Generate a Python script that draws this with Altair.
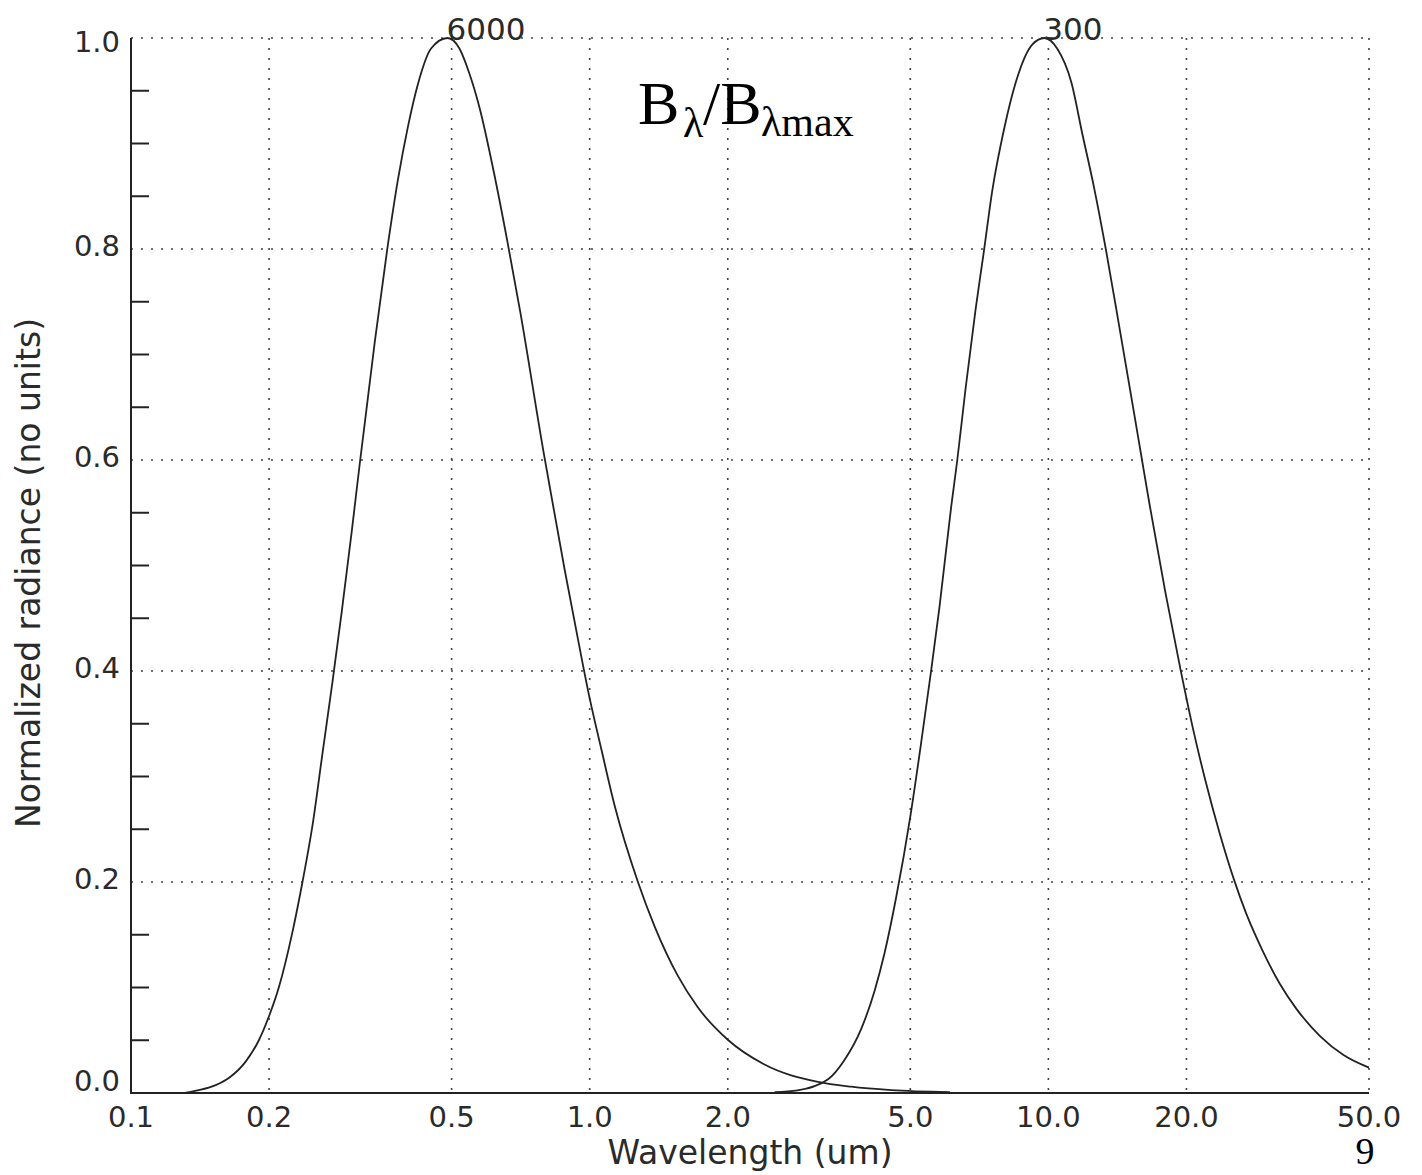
import altair as alt
import pandas as pd

# ---- data ----
wl_6000 = [0.131, 0.1406, 0.153, 0.1637, 0.178, 0.190, 0.200, 0.210, 0.225, 0.2365,
           0.249, 0.2615, 0.275, 0.288, 0.303, 0.316, 0.324, 0.340, 0.362, 0.382,
           0.402, 0.422, 0.451, 0.490, 0.520, 0.545, 0.576, 0.618, 0.661, 0.706,
           0.793, 0.825, 0.882, 0.943, 1.0, 1.06, 1.134, 1.274, 1.385, 1.557,
           1.722, 2.0, 2.405, 3.145, 3.715, 4.54, 6.1]
rad_6000 = [0.0, 0.0027, 0.0075, 0.0145, 0.030, 0.050, 0.073, 0.100, 0.153, 0.20,
            0.255, 0.322, 0.390, 0.456, 0.533, 0.60, 0.638, 0.712, 0.80, 0.866,
            0.917, 0.956, 0.990, 1.0, 0.990, 0.968, 0.933, 0.873, 0.808, 0.740,
            0.608, 0.566, 0.496, 0.430, 0.374, 0.326, 0.272, 0.2, 0.158, 0.111,
            0.081, 0.0505, 0.027, 0.0106, 0.006, 0.0028, 0.0009]

wl_300 = [2.53, 2.84, 3.31, 3.59, 3.91, 4.18, 4.39, 4.66, 5.0, 5.28,
          5.55, 5.79, 6.14, 6.33, 6.60, 6.94, 7.23, 7.55, 8.0, 8.49,
          9.23, 9.8, 10.45, 11.22, 11.86, 12.58, 13.34, 14.28, 15.27, 16.0,
          16.6, 18.0, 19.4, 20.6, 22.0, 23.6, 25.4, 27.0, 29.3, 31.9,
          34.7, 39.1, 44.0, 50.0]
rad_300 = [0.0007, 0.0025, 0.013, 0.031, 0.061, 0.097, 0.132, 0.186, 0.262, 0.332,
           0.400, 0.461, 0.556, 0.60, 0.668, 0.743, 0.797, 0.856, 0.913, 0.958,
           0.994, 1.0, 0.99, 0.958, 0.909, 0.858, 0.80, 0.726, 0.652, 0.60,
           0.559, 0.474, 0.402, 0.348, 0.296, 0.247, 0.202, 0.170, 0.135, 0.104,
           0.080, 0.054, 0.036, 0.024]

x_ticks = [0.1, 0.2, 0.5, 1.0, 2.0, 5.0, 10.0, 20.0, 50.0]
x_grid = [0.2, 0.5, 1.0, 2.0, 5.0, 10.0, 20.0, 50.0]
y_grid = [0.2, 0.4, 0.6, 0.8, 1.0]
y_labels_mid = [0.2, 0.4, 0.6, 0.8]
y_label_bottom = [0.0]
y_label_top = [1.0]
y_minor = [0.05, 0.10, 0.15, 0.25, 0.30, 0.35, 0.45, 0.50, 0.55,
           0.65, 0.70, 0.75, 0.85, 0.90, 0.95]

peak_text = ["6000", "300"]
peak_wl = [0.490, 9.8]
peak_val = [1.0, 1.0]

x_title = ["Wavelength (um)"]
y_title = ["Normalized radiance (no units)"]
ann_B1 = ["B"]
ann_sub1 = ["λ"]
ann_B2 = ["/B"]
ann_sub2 = ["λmax"]
page_no = ["9"]

# ---- build tables ----
curves = pd.concat([
    pd.DataFrame({"wl": wl_6000, "rad": rad_6000, "temp": "6000"}),
    pd.DataFrame({"wl": wl_300, "rad": rad_300, "temp": "300"}),
], ignore_index=True)

W, H = 1238, 1055
INK = "#222222"
TXT = "#2a2a2a"
GRID = "#444444"
SANS = "DejaVu Sans"
SERIF = "Liberation Serif"

x_scale = alt.Scale(type="log", domain=[0.1, 50], nice=False)
y_scale = alt.Scale(domain=[0, 1], nice=False, zero=False)


def X(field):
    return alt.X(field, scale=x_scale, axis=None)


def Y(field):
    return alt.Y(field, scale=y_scale, axis=None)


# dotted grid
vgrid = alt.Chart(pd.DataFrame({"g": x_grid})).mark_rule(
    color=GRID, strokeWidth=1.6, strokeDash=[2, 8]
).encode(x=X("g:Q"), y=alt.value(0), y2=alt.value(H))

hgrid = alt.Chart(pd.DataFrame({"g": y_grid})).mark_rule(
    color=GRID, strokeWidth=1.6, strokeDash=[2, 8]
).encode(y=Y("g:Q"), x=alt.value(0), x2=alt.value(W))

# axis lines
xdomain = alt.Chart(pd.DataFrame({"a": [0]})).mark_rule(color=INK, strokeWidth=2).encode(
    x=alt.value(-1), x2=alt.value(W), y=alt.value(H))
ydomain = alt.Chart(pd.DataFrame({"a": [0]})).mark_rule(color=INK, strokeWidth=2).encode(
    x=alt.value(0), y=alt.value(0), y2=alt.value(H + 1))

# minor ticks on the y axis (inward)
minor = alt.Chart(pd.DataFrame({"v": y_minor})).mark_rule(
    color=INK, strokeWidth=2
).encode(y=Y("v:Q"), x=alt.value(0), x2=alt.value(18))

# x tick labels
xlab = alt.Chart(pd.DataFrame({"t": x_ticks})).mark_text(
    align="center", baseline="top", font=SANS, fontSize=29, color=TXT
).encode(x=X("t:Q"), y=alt.value(H + 11), text=alt.Text("t:Q", format=".1f"))


def ylabels(vals, dy):
    return alt.Chart(pd.DataFrame({"v": vals})).mark_text(
        align="right", baseline="middle", dy=dy, font=SANS, fontSize=29, color=TXT
    ).encode(x=alt.value(-11), y=Y("v:Q"), text=alt.Text("v:Q", format=".1f"))


ylab = ylabels(y_labels_mid, -2) + ylabels(y_label_bottom, -11) + ylabels(y_label_top, 5)

# axis titles
xtitle = alt.Chart(pd.DataFrame({"t": x_title})).mark_text(
    align="center", baseline="alphabetic", font=SANS, fontSize=33, color=TXT
).encode(x=alt.value(W / 2), y=alt.value(H + 71), text="t:N")
ytitle = alt.Chart(pd.DataFrame({"t": y_title})).mark_text(
    align="center", baseline="middle", angle=270, font=SANS, fontSize=33, color=TXT
).encode(x=alt.value(-101), y=alt.value(535), text="t:N")

# curves
lines = alt.Chart(curves).mark_line(
    color=INK, strokeWidth=1.8, interpolate="monotone"
).encode(x=X("wl:Q"), y=Y("rad:Q"), detail="temp:N")

peaks = alt.Chart(pd.DataFrame({"wl": peak_wl, "rad": peak_val, "label": peak_text})).mark_text(
    align="left", baseline="alphabetic", dx=-1, dy=2,
    font=SANS, fontSize=31, color=TXT,
).encode(x=X("wl:Q"), y=Y("rad:Q"), text="label:N")


def label(txt, x, y, size, font=SERIF, align="left"):
    return alt.Chart(pd.DataFrame({"t": txt})).mark_text(
        align=align, baseline="alphabetic", font=font, fontSize=size, color="#000000"
    ).encode(x=alt.value(x), y=alt.value(y), text="t:N")


ann = (label(ann_B1, 507, 86, 62) + label(ann_sub1, 552, 99, 42)
       + label(ann_B2, 572, 86, 62) + label(ann_sub2, 630, 98, 42)
       + label(page_no, 1234, 1126, 38, align="center"))

chart = alt.layer(
    vgrid, hgrid, lines, xdomain, ydomain, minor, xlab, ylab, xtitle, ytitle, peaks, ann
).properties(
    width=W, height=H,
    autosize=alt.AutoSizeParams(type="none"),
    padding={"left": 131, "top": 38, "right": 1422 - 131 - W, "bottom": 1175 - 38 - H},
    background="white",
).configure_view(stroke=None)

chart.save("out.html", embed_options={"renderer": "svg", "actions": False})
